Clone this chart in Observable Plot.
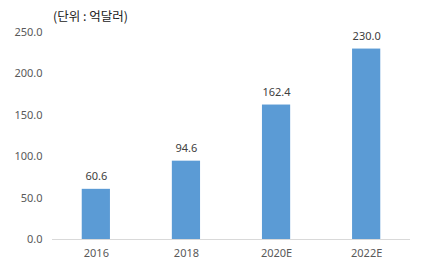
<!DOCTYPE html>
<html>
<head>
<meta charset="utf-8">
<script src="https://cdn.jsdelivr.net/npm/d3@7"></script>
<script src="https://cdn.jsdelivr.net/npm/@observablehq/plot@0.6"></script>
<style>
  body { margin: 0; background: #fff; }
  #title { height: 11px; padding: 9px 0 0 53px; font: 12.5px "Noto Sans CJK KR", sans-serif; color: #222; line-height: 14px; overflow: visible; }
  svg { overflow: visible; }
</style>
</head>
<body>
<div id="title">(단위 : 억달러)</div>
<div id="chart"></div>
<script>
const categories = ["2016", "2018", "2020E", "2022E"];
const values = [60.6, 94.6, 162.4, 230.0];
const yTicks = [0, 50, 100, 150, 200, 250];

const data = categories.map((c, i) => ({category: c, value: values[i]}));

const chart = Plot.plot({
  width: 428,
  height: 249,
  marginLeft: 52,
  marginRight: 18,
  marginTop: 12,
  marginBottom: 30,
  style: {fontFamily: "'Noto Sans', 'Noto Sans CJK KR', sans-serif", fontSize: "11px", color: "#595959", background: "#fff", overflow: "visible"},
  x: {domain: categories, paddingInner: 0.687, paddingOuter: 0.33, round: false, label: null},
  y: {domain: [0, 250], label: null},
  marks: [
    Plot.barY(data, {x: "category", y: "value", fill: "#5b9bd5"}),
    Plot.ruleY([0], {stroke: "#d9d9d9", strokeWidth: 1}),
    Plot.text(data, {x: "category", y: "value", text: d => d.value.toFixed(1), dy: -13, fill: "#404040", fontSize: 11}),
    Plot.axisY({ticks: yTicks, tickFormat: d => d.toFixed(1), tickSize: 0, tickPadding: 10, label: null}),
    Plot.axisX({tickSize: 0, tickPadding: 10, label: null})
  ]
});
document.getElementById("chart").appendChild(chart);
</script>
</body>
</html>
